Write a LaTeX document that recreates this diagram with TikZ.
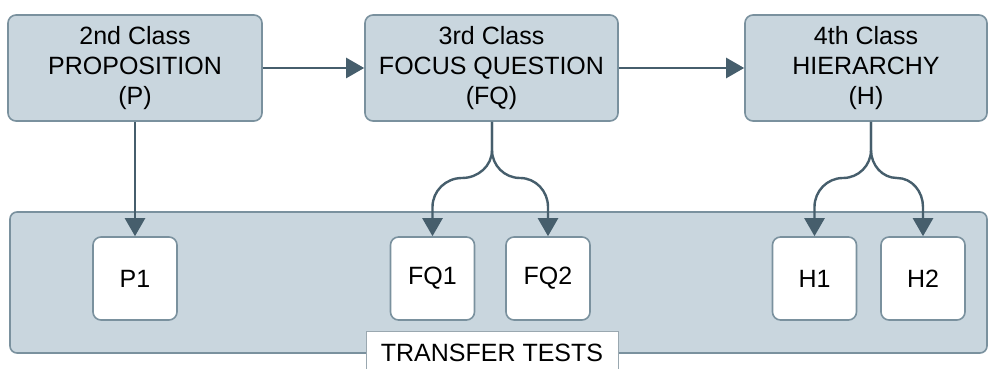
\documentclass[tikz,border=0pt]{standalone}
\usepackage{fontspec}
\setmainfont{Liberation Sans}
\usetikzlibrary{arrows.meta}
\definecolor{boxfill}{HTML}{C9D6DE}
\definecolor{boxline}{HTML}{7A919E}
\definecolor{arrowc}{HTML}{465E6C}
\definecolor{lblline}{HTML}{9AA8B0}
\begin{document}
\begin{tikzpicture}[x=1pt,y=1pt,
  classbox/.style={draw=boxline, line width=1.6pt, fill=boxfill, rounded corners=8pt,
    minimum height=106pt, align=center, inner sep=0pt,
    font=\fontsize{25}{30}\selectfont},
  itembox/.style={draw=boxline, line width=1.6pt, fill=white, rounded corners=8pt,
    minimum width=84pt, minimum height=83pt, inner sep=0pt,
    font=\fontsize{25}{28}\selectfont},
  groupbox/.style={draw=boxline, line width=1.6pt, fill=boxfill, rounded corners=7pt,
    minimum width=977pt, minimum height=141pt, inner sep=0pt},
  labelbox/.style={draw=lblline, line width=1pt, fill=white, minimum width=252pt,
    minimum height=43pt, inner sep=0pt, font=\fontsize{25}{28}\selectfont},
  conn/.style={draw=arrowc, line width=2.4pt, -{Triangle[width=20pt,length=18pt]}},
]
\useasboundingbox (0,0) rectangle (988,369);

% top class boxes
\node[classbox, minimum width=254pt] (c2) at (135,301) {2nd Class\\PROPOSITION\\(P)};
\node[classbox, minimum width=253pt] (c3) at (491.5,301) {3rd Class\\FOCUS QUESTION\\(FQ)};
\node[classbox, minimum width=242pt] (c4) at (866,301) {4th Class\\HIERARCHY\\(H)};

% transfer tests container
\node[groupbox] (tt) at (498.5,86.5) {};

% item boxes
\node[itembox] (p1) at (135,90.5) {P1};
\node[itembox] (fq1) at (432.5,90.5) {FQ1};
\node[itembox] (fq2) at (548,90.5) {FQ2};
\node[itembox] (h1) at (814.5,90.5) {H1};
\node[itembox] (h2) at (923,90.5) {H2};

% label
\node[labelbox] (lbl) at (492,16) {TRANSFER TESTS};

% horizontal connectors
\draw[conn] (c2.east) -- (c3.west);
\draw[conn] (c3.east) -- (c4.west);

% P connector
\draw[conn] (c2.south) -- (p1.north);

% FQ fork
\coordinate (fqfork) at (492,219);
\coordinate (fqL) at (462,191);
\coordinate (fqR) at (520,191);
\coordinate (fq1turn) at (432.5,162);
\coordinate (fq2turn) at (548,162);
\draw[conn] (c3.south -| fqfork) -- (fqfork) to[out=-90,in=0] (fqL)
  to[out=180,in=90] (fq1turn) -- (fq1.north);
\draw[conn] (c3.south -| fqfork) -- (fqfork) to[out=-90,in=180] (fqR)
  to[out=0,in=90] (fq2turn) -- (fq2.north);

% H fork
\coordinate (hfork) at (871,219);
\coordinate (hL) at (843,191);
\coordinate (hR) at (897,191);
\coordinate (h1turn) at (814.5,162);
\coordinate (h2turn) at (923,162);
\draw[conn] (c4.south -| hfork) -- (hfork) to[out=-90,in=0] (hL)
  to[out=180,in=90] (h1turn) -- (h1.north);
\draw[conn] (c4.south -| hfork) -- (hfork) to[out=-90,in=180] (hR)
  to[out=0,in=90] (h2turn) -- (h2.north);
\end{tikzpicture}
\end{document}
